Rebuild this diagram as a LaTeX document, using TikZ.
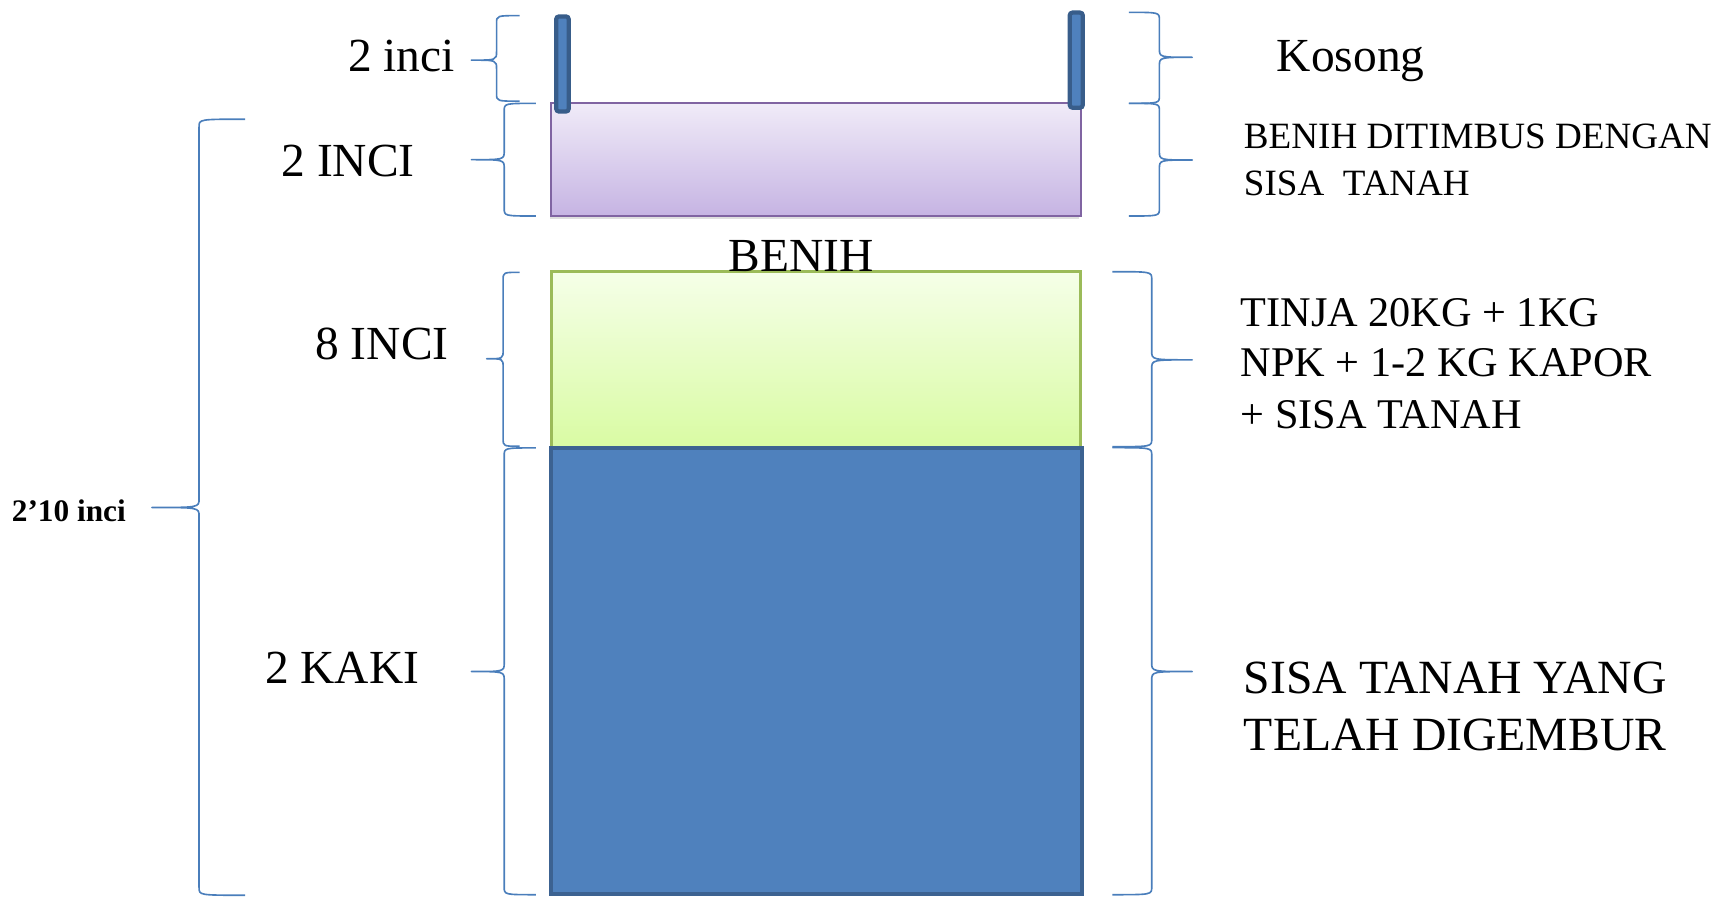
\documentclass[tikz,border=0pt]{standalone}
\usepackage{fontspec}
\setmainfont{Liberation Serif}
\usetikzlibrary{shadows}
\definecolor{bracec}{RGB}{74,126,187}
\definecolor{postfill}{RGB}{79,129,189}
\definecolor{postdraw}{RGB}{56,93,138}
\definecolor{soilfill}{RGB}{79,129,189}
\definecolor{soildraw}{RGB}{60,98,145}
\definecolor{purpdraw}{RGB}{128,100,162}
\definecolor{purptop}{RGB}{240,235,248}
\definecolor{purpbot}{RGB}{198,180,227}
\definecolor{greendraw}{RGB}{155,187,89}
\definecolor{greentop}{RGB}{245,255,232}
\definecolor{greenbot}{RGB}{217,251,163}
\newcommand\BraceShape[6]{% top, bottom, mid, spine, tip, point
  \draw[bracestyle] ({#5},{#1}) .. controls ({#4},{#1}) .. ({#4},{#1+7})
    -- ({#4},{#3-8}) .. controls ({#4},{#3}) .. ({#6},{#3})
    .. controls ({#4},{#3}) .. ({#4},{#3+8})
    -- ({#4},{#2-7}) .. controls ({#4},{#2}) .. ({#5},{#2});}
\tikzset{
  bracestyle/.style={draw=bracec, line width=0.85pt, line join=round},
  biglbl/.style={font=\fontsize{24.7pt}{29pt}\selectfont, inner sep=0pt, anchor=base west},
  benihlbl/.style={font=\fontsize{19.3pt}{23pt}\selectfont, inner sep=0pt, anchor=base west},
  tinjalbl/.style={font=\fontsize{22pt}{26pt}\selectfont, inner sep=0pt, anchor=base west},
  sisalbl/.style={font=\fontsize{24.8pt}{29pt}\selectfont, inner sep=0pt, anchor=base west},
  totallbl/.style={font=\bfseries\fontsize{16.3pt}{20pt}\selectfont, inner sep=0pt, anchor=base west},
  postbar/.style={fill=postfill, draw=postdraw, line width=2.2pt, rounded corners=1.5pt},
}
\begin{document}
\begin{tikzpicture}[x=0.02cm, y=-0.02cm]
\useasboundingbox (0,0) rectangle (1568,820);
% layers
\path[drop shadow={opacity=0.25, shadow xshift=-0.6pt, shadow yshift=-1.6pt},
  top color=purptop, bottom color=purpbot, draw=purpdraw, line width=1.1pt]
  (504,94.5) rectangle (988,197.5);
\path[drop shadow={opacity=0.25, shadow xshift=-0.6pt, shadow yshift=-1.6pt},
  top color=greentop, bottom color=greenbot, draw=greendraw, line width=1.4pt]
  (504,248.4) rectangle (988,409);
\path[fill=soilfill, draw=soildraw, line width=2pt] (503.5,409.5) rectangle (989.5,817.5);
% posts
\path[postbar] (508.5,15) rectangle (520,102);
\path[postbar] (978,11.5) rectangle (990,98.5);
% left braces
\BraceShape{14.3}{92.5}{55}{454}{475}{431}
\BraceShape{94.5}{197.5}{146}{461}{490}{431}
\BraceShape{249}{408}{328}{460}{475}{445}
\BraceShape{409.5}{818}{614}{461}{490}{431}
\BraceShape{109}{818.5}{464}{182}{224}{139}
% right braces
\BraceShape{11.3}{94.5}{52.4}{1060}{1032}{1090}
\BraceShape{94.5}{197.5}{146.3}{1060}{1032}{1090}
\BraceShape{248.4}{408.4}{329}{1053}{1017}{1090}
\BraceShape{409.3}{818}{614}{1053}{1017}{1090}
% labels left
\node[biglbl] (l2inci) at (318,65.5) {2 inci};
\node[biglbl] (l2INCI) at (257,161) {2 INCI};
\node[biglbl] (l8INCI) at (288,329) {8 INCI};
\node[biglbl] (l2KAKI) at (242,625) {2 KAKI};
\node[totallbl] (ltotal) at (10.5,477) {2’10 inci};
\node[biglbl] (lbenih) at (666,248) {BENIH};
% labels right
\node[biglbl] (rkosong) at (1167,65.5) {Kosong};
\node[benihlbl] (rbenih1) at (1137,136) {BENIH DITIMBUS DENGAN};
\node[benihlbl] (rbenih2) at (1137,178.3) {SISA\ \ TANAH};
\node[tinjalbl] (rtinja1) at (1134,298.7) {TINJA 20KG + 1KG};
\node[tinjalbl] (rtinja2) at (1134,344.4) {NPK + 1-2 KG KAPOR};
\node[tinjalbl] (rtinja3) at (1134,391.6) {+ SISA TANAH};
\node[sisalbl] (rsisa1) at (1137,634) {SISA TANAH YANG};
\node[sisalbl] (rsisa2) at (1137,686) {TELAH DIGEMBUR};
\end{tikzpicture}
\end{document}
